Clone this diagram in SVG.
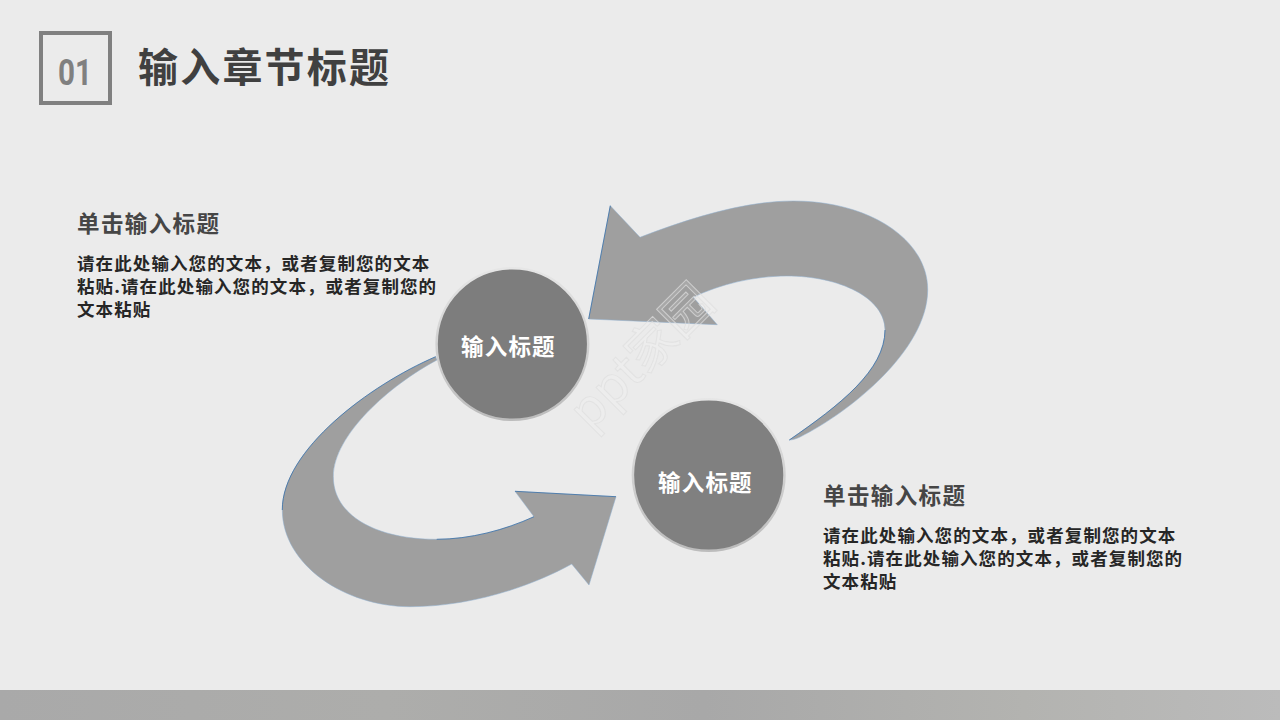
<svg xmlns="http://www.w3.org/2000/svg" width="1280" height="720" viewBox="0 0 1280 720">
<style>
text{font-family:"Noto Sans CJK SC","Noto Sans",sans-serif;font-weight:700}
.h{font-size:22.5px;letter-spacing:1.4px;fill:#464646}
.b{font-size:17.5px;letter-spacing:1.1px;fill:#262626}
.c{font-size:22.5px;letter-spacing:1.2px;fill:#fff}
.arrow{fill:#9f9f9f;stroke:#8fb0d2;stroke-width:.5}
.edge{fill:none;stroke:#27609c;stroke-width:.8;stroke-opacity:.85}
.disc{stroke:url(#ring);stroke-width:2.5}
</style>
<defs>
<linearGradient id="foot" x1="0" x2="1" y1="0" y2="0"><stop offset="0" stop-color="#a9a9a9"/><stop offset=".3" stop-color="#adadab"/><stop offset=".55" stop-color="#a8a8a8"/><stop offset=".8" stop-color="#b3b3b0"/><stop offset="1" stop-color="#bbb"/></linearGradient>
<linearGradient id="ring" x1="0" x2="0" y1="0" y2="1"><stop offset="0" stop-color="#e6e6e6"/><stop offset="1" stop-color="#bcbcbc"/></linearGradient>
</defs>
<rect width="1280" height="720" fill="#ebebeb"/>
<g id="footer"><rect y="690" width="1280" height="30" fill="url(#foot)"/></g>
<g id="header">
<rect x="41" y="33" width="69" height="70" fill="none" stroke="#808080" stroke-width="4"/>
<text x="58" y="85" font-size="36" textLength="34" lengthAdjust="spacingAndGlyphs" fill="#808080" style="font-family:'Roboto','Liberation Sans',sans-serif">01</text>
<text x="138" y="82" font-size="40" letter-spacing="2.2" fill="#404040">输入章节标题</text>
</g>
<g id="connectors">
<path id="arrow-top" class="arrow" d="M588.7 319L610.3 205.7L640 237.3C690 218 745 201 793 201C870 201 928 240 927.7 290C927.5 350 850 412 800 437C796 439 792 440 789.3 440C840 405 885 370 885 330C885 298 840 276 786.7 276C755 276 720 284 693.3 297.3L717.3 324.7Z"/>
<path class="edge" d="M789.3 440C840 405 885 370 885 330M588.7 319L610.3 205.7"/>
<path id="arrow-bottom" class="arrow" d="M435.7 356.7C370 385 282 450 282.3 510C282.5 565 345 606.7 410 606.7C470 606.7 530 587 571.7 564L589 585L616 496.7L515 491.3L534 516.7C505 530 470 539.3 436.7 539.3C375 539.3 333.3 515 333.3 476.7C333.3 435 390 385 437 360Z"/>
<path class="edge" d="M435.7 356.7C370 385 282 450 282.3 510M515 491.3L616 496.7M534 516.7C505 530 470 539.3 436.7 539.3"/>
</g>
<g id="node-1">
<circle class="disc" cx="512.4" cy="344" r="75.8" fill="#7d7d7d"/>
<text class="c" x="461" y="355">输入标题</text>
</g>
<g id="node-2">
<circle class="disc" cx="708.7" cy="475" r="75.8" fill="#808080"/>
<text class="c" x="658" y="491">输入标题</text>
</g>
<g id="label-1">
<text class="h" x="77" y="232">单击输入标题</text>
<text class="b" x="77" y="270">请在此处输入您的文本，或者复制您的文本</text>
<text class="b" x="77" y="293">粘贴.请在此处输入您的文本，或者复制您的</text>
<text class="b" x="77" y="316">文本粘贴</text>
</g>
<g id="label-2">
<text class="h" x="823" y="504">单击输入标题</text>
<text class="b" x="823" y="542">请在此处输入您的文本，或者复制您的文本</text>
<text class="b" x="823" y="565">粘贴.请在此处输入您的文本，或者复制您的</text>
<text class="b" x="823" y="588">文本粘贴</text>
</g>
<text id="watermark" transform="translate(590 432) rotate(-45)" font-size="50" fill="#fff" fill-opacity=".1" stroke="#dedede" stroke-opacity=".7" stroke-width="1" style="font-weight:400">ppt家园</text>
</svg>
